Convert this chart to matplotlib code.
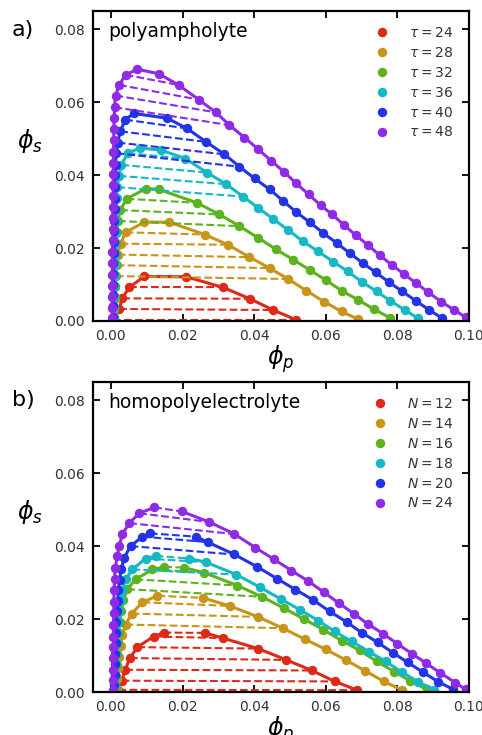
'''
Binodal phase diagrams (phi_s vs phi_p) for a polyampholyte and a homopolyelectrolyte
'''

import matplotlib
matplotlib.use('Agg')
import matplotlib.pyplot as plt

COLORS = ['#dd2a18', '#c8941a', '#5cb31d', '#16b8c4', '#2234e6', '#8f2be6']

# ---- panel a) polyampholyte, one list per tau ----
a_labels = [r'$\tau = 24$', r'$\tau = 28$', r'$\tau = 32$',
            r'$\tau = 36$', r'$\tau = 40$', r'$\tau = 48$']

# dilute branch (top -> bottom)
a_left_x = [
    [0.0093, 0.0051, 0.0032, 0.0023, 0.0006],
    [0.0093, 0.0041, 0.0027, 0.0019, 0.0016, 0.0014, 0.0012, 0.0010, 0.0009, 0.0008],
    [0.0098, 0.0044, 0.0026, 0.0020, 0.0017, 0.0015, 0.0014, 0.0013, 0.0012, 0.0011,
     0.0010, 0.0009, 0.0008],
    [0.0080, 0.0047, 0.0029, 0.0022, 0.0018, 0.0016, 0.0015, 0.0014, 0.0013, 0.0012,
     0.0011, 0.0010, 0.0010, 0.0009, 0.0009, 0.0008, 0.0008],
    [0.0064, 0.0040, 0.0026, 0.0019, 0.0015, 0.0013, 0.0012, 0.0011, 0.0010, 0.0010,
     0.0009, 0.0009, 0.0008, 0.0008, 0.0007, 0.0007, 0.0007, 0.0006, 0.0006, 0.0006],
    [0.0074, 0.0041, 0.0023, 0.0013, 0.0010, 0.0009, 0.0008, 0.0008, 0.0007, 0.0007,
     0.0006, 0.0006, 0.0006, 0.0005, 0.0005, 0.0005, 0.0005, 0.0004, 0.0004, 0.0004,
     0.0004, 0.0004, 0.0004, 0.0004],
]
a_left_y = [
    [0.0122, 0.0092, 0.0062, 0.0033, 0.0003],
    [0.0271, 0.0243, 0.0212, 0.0182, 0.0153, 0.0123, 0.0092, 0.0061, 0.0032, 0.0004],
    [0.0363, 0.0335, 0.0304, 0.0274, 0.0244, 0.0213, 0.0184, 0.0155, 0.0125, 0.0096,
     0.0067, 0.0038, 0.0010],
    [0.0474, 0.0460, 0.0428, 0.0398, 0.0367, 0.0336, 0.0305, 0.0273, 0.0241, 0.0212,
     0.0182, 0.0153, 0.0122, 0.0092, 0.0064, 0.0035, 0.0009],
    [0.0569, 0.0552, 0.0520, 0.0489, 0.0460, 0.0429, 0.0399, 0.0367, 0.0335, 0.0306,
     0.0275, 0.0246, 0.0216, 0.0187, 0.0158, 0.0128, 0.0100, 0.0070, 0.0040, 0.0010],
    [0.0690, 0.0675, 0.0647, 0.0618, 0.0586, 0.0557, 0.0525, 0.0495, 0.0464, 0.0434,
     0.0404, 0.0374, 0.0344, 0.0313, 0.0283, 0.0252, 0.0221, 0.0190, 0.0159, 0.0127,
     0.0096, 0.0065, 0.0036, 0.0008],
]
# dense branch (top -> bottom)
a_right_x = [
    [0.0211, 0.0313, 0.0388, 0.0453, 0.0518],
    [0.0162, 0.0262, 0.0327, 0.0387, 0.0443, 0.0495, 0.0546, 0.0595, 0.0644, 0.0690],
    [0.0133, 0.0240, 0.0303, 0.0359, 0.0411, 0.0460, 0.0509, 0.0555, 0.0602, 0.0644,
     0.0690, 0.0735, 0.0779],
    [0.0139, 0.0208, 0.0268, 0.0322, 0.0369, 0.0411, 0.0453, 0.0495, 0.0537, 0.0578,
     0.0620, 0.0661, 0.0700, 0.0742, 0.0779, 0.0821, 0.0858],
    [0.0157, 0.0212, 0.0266, 0.0317, 0.0359, 0.0401, 0.0443, 0.0481, 0.0518, 0.0555,
     0.0593, 0.0630, 0.0667, 0.0703, 0.0740, 0.0777, 0.0814, 0.0852, 0.0889, 0.0926],
    [0.0133, 0.0189, 0.0245, 0.0293, 0.0331, 0.0373, 0.0411, 0.0448, 0.0483, 0.0518,
     0.0552, 0.0586, 0.0618, 0.0651, 0.0684, 0.0718, 0.0751, 0.0784, 0.0818, 0.0852,
     0.0886, 0.0922, 0.0959, 0.0991],
]
a_right_y = [
    [0.0121, 0.0092, 0.0061, 0.0030, 0.0003],
    [0.0271, 0.0237, 0.0209, 0.0175, 0.0145, 0.0115, 0.0083, 0.0053, 0.0026, 0.0005],
    [0.0361, 0.0324, 0.0292, 0.0260, 0.0228, 0.0197, 0.0168, 0.0140, 0.0111, 0.0083,
     0.0058, 0.0032, 0.0009],
    [0.0469, 0.0445, 0.0407, 0.0375, 0.0341, 0.0310, 0.0280, 0.0249, 0.0218, 0.0191,
     0.0163, 0.0136, 0.0108, 0.0081, 0.0056, 0.0030, 0.0007],
    [0.0556, 0.0528, 0.0491, 0.0457, 0.0423, 0.0391, 0.0361, 0.0329, 0.0298, 0.0271,
     0.0241, 0.0214, 0.0186, 0.0159, 0.0133, 0.0106, 0.0081, 0.0055, 0.0030, 0.0007],
    [0.0678, 0.0647, 0.0607, 0.0572, 0.0537, 0.0503, 0.0471, 0.0439, 0.0409, 0.0377,
     0.0347, 0.0317, 0.0292, 0.0263, 0.0235, 0.0208, 0.0180, 0.0154, 0.0129, 0.0104,
     0.0079, 0.0053, 0.0030, 0.0010],
]
# number of tie lines drawn (from the top)
a_ties = [5, 6, 4, 5, 5, 5]

# ---- panel b) homopolyelectrolyte, one list per N ----
b_labels = [r'$N = 12$', r'$N = 14$', r'$N = 16$',
            r'$N = 18$', r'$N = 20$', r'$N = 24$']

b_left_x = [
    [0.0147, 0.0119, 0.0074, 0.0053, 0.0040, 0.0030, 0.0021],
    [0.0130, 0.0088, 0.0058, 0.0041, 0.0032, 0.0027, 0.0023, 0.0020, 0.0018, 0.0016],
    [0.0149, 0.0116, 0.0069, 0.0046, 0.0035, 0.0029, 0.0025, 0.0022, 0.0020, 0.0018,
     0.0016, 0.0015, 0.0014],
    [0.0125, 0.0097, 0.0060, 0.0041, 0.0032, 0.0027, 0.0023, 0.0020, 0.0018, 0.0016,
     0.0014, 0.0013, 0.0012, 0.0011],
    [0.0109, 0.0088, 0.0055, 0.0037, 0.0029, 0.0024, 0.0021, 0.0019, 0.0017, 0.0015,
     0.0014, 0.0013, 0.0012, 0.0011, 0.0010, 0.0009],
    [0.0121, 0.0079, 0.0051, 0.0032, 0.0023, 0.0018, 0.0012, 0.0010, 0.0009, 0.0008,
     0.0008, 0.0007, 0.0007, 0.0007, 0.0006, 0.0006, 0.0006, 0.0006],
]
b_left_y = [
    [0.0163, 0.0152, 0.0123, 0.0093, 0.0061, 0.0031, 0.0006],
    [0.0264, 0.0246, 0.0215, 0.0185, 0.0155, 0.0126, 0.0096, 0.0066, 0.0035, 0.0007],
    [0.0343, 0.0336, 0.0309, 0.0282, 0.0253, 0.0223, 0.0193, 0.0163, 0.0133, 0.0103,
     0.0073, 0.0043, 0.0012],
    [0.0373, 0.0366, 0.0336, 0.0309, 0.0280, 0.0251, 0.0222, 0.0193, 0.0164, 0.0135,
     0.0106, 0.0077, 0.0048, 0.0019],
    [0.0435, 0.0426, 0.0400, 0.0368, 0.0338, 0.0308, 0.0279, 0.0250, 0.0221, 0.0192,
     0.0163, 0.0134, 0.0105, 0.0076, 0.0047, 0.0018],
    [0.0506, 0.0490, 0.0463, 0.0433, 0.0400, 0.0373, 0.0341, 0.0309, 0.0279, 0.0246,
     0.0217, 0.0185, 0.0152, 0.0123, 0.0093, 0.0061, 0.0033, 0.0006],
]
b_right_x = [
    [0.0263, 0.0312, 0.0411, 0.0490, 0.0561, 0.0625, 0.0688],
    [0.0257, 0.0332, 0.0411, 0.0480, 0.0541, 0.0600, 0.0657, 0.0710, 0.0762, 0.0814],
    [0.0205, 0.0261, 0.0353, 0.0422, 0.0483, 0.0539, 0.0593, 0.0644, 0.0695, 0.0742,
     0.0791, 0.0835, 0.0882],
    [0.0219, 0.0265, 0.0350, 0.0415, 0.0474, 0.0527, 0.0579, 0.0625, 0.0672, 0.0720,
     0.0767, 0.0813, 0.0858, 0.0903],
    [0.0237, 0.0270, 0.0345, 0.0409, 0.0465, 0.0515, 0.0565, 0.0611, 0.0658, 0.0700,
     0.0745, 0.0787, 0.0829, 0.0872, 0.0914, 0.0956],
    [0.0198, 0.0275, 0.0345, 0.0403, 0.0455, 0.0504, 0.0551, 0.0594, 0.0636, 0.0678,
     0.0718, 0.0760, 0.0800, 0.0841, 0.0880, 0.0919, 0.0961, 0.0991],
]
b_right_y = [
    [0.0162, 0.0148, 0.0119, 0.0088, 0.0059, 0.0029, 0.0005],
    [0.0258, 0.0236, 0.0206, 0.0175, 0.0145, 0.0117, 0.0087, 0.0058, 0.0029, 0.0005],
    [0.0341, 0.0327, 0.0292, 0.0261, 0.0230, 0.0200, 0.0171, 0.0141, 0.0114, 0.0084,
     0.0056, 0.0031, 0.0007],
    [0.0366, 0.0356, 0.0322, 0.0288, 0.0255, 0.0226, 0.0196, 0.0166, 0.0139, 0.0111,
     0.0084, 0.0054, 0.0028, 0.0006],
    [0.0426, 0.0411, 0.0377, 0.0343, 0.0310, 0.0281, 0.0252, 0.0221, 0.0192, 0.0163,
     0.0136, 0.0108, 0.0081, 0.0054, 0.0028, 0.0007],
    [0.0495, 0.0466, 0.0433, 0.0396, 0.0364, 0.0333, 0.0304, 0.0274, 0.0244, 0.0215,
     0.0186, 0.0160, 0.0132, 0.0105, 0.0079, 0.0053, 0.0026, 0.0007],
]
b_ties = [7, 4, 4, 3, 3, 3]


def draw_panel(ax, labels, lx, ly, rx, ry, ties, join_top):
    '''
    Draws tie lines, binodal line and points for every curve of a panel
    '''

    for i, color in enumerate(COLORS):

        # tie lines
        for k in range(ties[i]):
            ax.plot([lx[i][k], rx[i][k]], [ly[i][k], ry[i][k]],
                    color=color, linestyle='--', linewidth=1.5)

        # binodal
        if join_top:
            ax.plot(lx[i][::-1] + rx[i], ly[i][::-1] + ry[i], color=color, linewidth=2.2)
        else:
            ax.plot(lx[i], ly[i], color=color, linewidth=2.2)
            ax.plot(rx[i], ry[i], color=color, linewidth=2.2)

        ax.plot(lx[i] + rx[i], ly[i] + ry[i], linestyle='None', marker='o',
                markersize=6.8, markeredgewidth=0, color=color, label=labels[i])

    ax.set_xlim(-0.005, 0.1)
    ax.set_ylim(0, 0.085)
    ax.set_xticks([0.0, 0.02, 0.04, 0.06, 0.08, 0.10])
    ax.set_yticks([0.0, 0.02, 0.04, 0.06, 0.08])
    ax.xaxis.set_major_formatter(matplotlib.ticker.FormatStrFormatter('%.2f'))
    ax.yaxis.set_major_formatter(matplotlib.ticker.FormatStrFormatter('%.2f'))
    ax.tick_params(direction='in', top=True, right=True, length=5, width=1.3,
                   labelsize=10, labelcolor='#333333', pad=6)
    for spine in ax.spines.values():
        spine.set_linewidth(1.6)

    ax.set_xlabel(r'$\phi_p$', fontsize=17, labelpad=0)
    ax.set_ylabel(r'$\phi_s$', fontsize=17, rotation=0)
    ax.yaxis.set_label_coords(-0.168, 0.535)

    ax.legend(loc='upper right', frameon=False, fontsize=10, handletextpad=1.0,
              labelspacing=0.42, borderaxespad=0.7, labelcolor='#333333')


fig = plt.figure(figsize=(4.82, 7.35), dpi=100)

ax_a = fig.add_axes([0.193, 0.5633, 0.780, 0.4218])
draw_panel(ax_a, a_labels, a_left_x, a_left_y, a_right_x, a_right_y, a_ties, True)
ax_a.text(0.04, 0.965, 'polyampholyte', transform=ax_a.transAxes,
          fontsize=13.5, va='top', ha='left')

ax_b = fig.add_axes([0.193, 0.0585, 0.780, 0.4218])
draw_panel(ax_b, b_labels, b_left_x, b_left_y, b_right_x, b_right_y, b_ties, False)
ax_b.text(0.04, 0.965, 'homopolyelectrolyte', transform=ax_b.transAxes,
          fontsize=13.5, va='top', ha='left')

fig.text(0.024, 0.959, 'a)', fontsize=16, va='center', ha='left')
fig.text(0.024, 0.456, 'b)', fontsize=16, va='center', ha='left')

fig.savefig('out.png', dpi=100)
